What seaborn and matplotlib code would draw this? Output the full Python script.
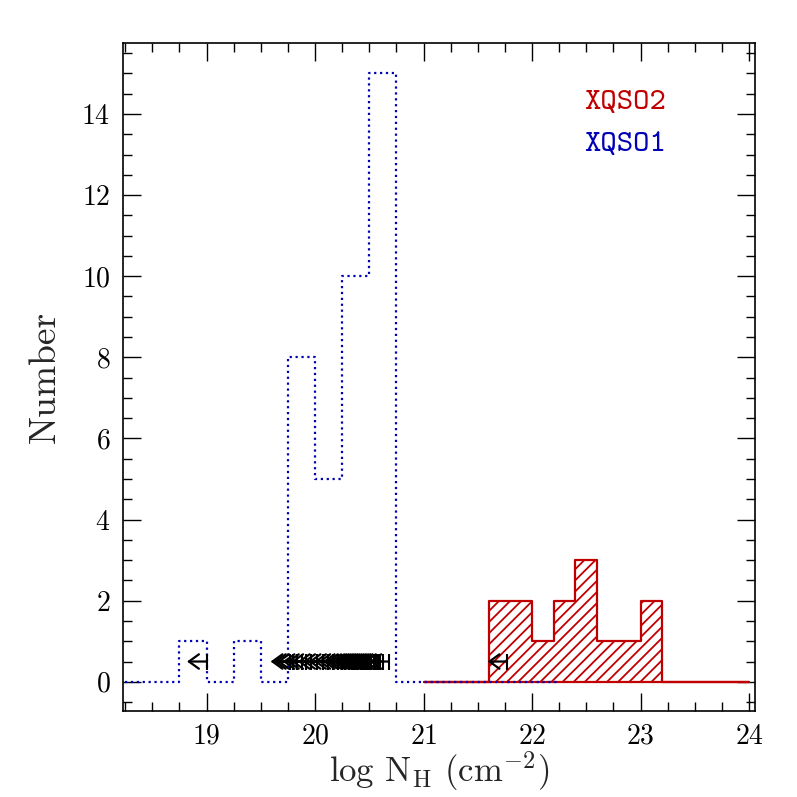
import numpy as np
import pandas as pd
import matplotlib
matplotlib.use("Agg")
import matplotlib.pyplot as plt
import seaborn as sns
from matplotlib.ticker import MultipleLocator

# ---------------- data ----------------
# XQSO1 (blue, dotted) histogram: bin width 0.25 dex
blue_start, blue_width = 18.25, 0.25
blue_counts = [0, 0, 1, 0, 1, 0, 8, 5, 10, 15, 0, 0, 0, 0, 0, 0]
# XQSO2 (red, hatched) histogram: bin width 0.2 dex
red_start, red_width = 21.0, 0.2
red_counts = [0, 0, 0, 2, 2, 1, 2, 3, 1, 1, 2, 0, 0, 0, 0]
# upper limits on log NH (arrows)
ulim_values = [19.00,
               19.77, 19.80, 19.83, 19.88, 19.92, 19.96, 20.02, 20.07, 20.12,
               20.17, 20.21, 20.25, 20.28, 20.31, 20.34, 20.36, 20.38, 20.40,
               20.42, 20.44, 20.46, 20.48, 20.50, 20.52, 20.54, 20.56, 20.58,
               20.60, 20.63, 20.68,
               21.77]
ulim_level = 0.5
legend_labels = ["XQSO2", "XQSO1"]
x_ticks = [19, 20, 21, 22, 23, 24]
y_ticks = [0, 2, 4, 6, 8, 10, 12, 14]

RED = "#c00000"
BLUE = "#0000b4"

blue_edges = [float(e) for e in blue_start + blue_width * np.arange(len(blue_counts) + 1)]
red_edges = [float(e) for e in red_start + red_width * np.arange(len(red_counts) + 1)]
blue_df = pd.DataFrame({"x": np.array(blue_edges[:-1]) + blue_width / 2, "n": blue_counts})
red_df = pd.DataFrame({"x": np.array(red_edges[:-1]) + red_width / 2, "n": red_counts})

# ---------------- style ----------------
sns.set_style("ticks")
plt.rcParams["font.family"] = ["cmr10", "DejaVu Serif"]
plt.rcParams["mathtext.fontset"] = "cm"
plt.rcParams["axes.formatter.use_mathtext"] = True
plt.rcParams["hatch.linewidth"] = 1.3

fig = plt.figure(figsize=(7.97, 7.97), dpi=100)
ax = fig.add_axes([123 / 797, 1 - 711 / 797, (755 - 123) / 797, (711 - 43) / 797])

# red hatched histogram
sns.histplot(data=red_df, x="x", weights="n", bins=red_edges, element="step",
             fill=True, ax=ax, color=RED)
poly = ax.collections[-1]
poly.set_facecolor("none")
poly.set_edgecolor(RED)
poly.set_hatch("///")
poly.set_linewidth(1.6)
poly.set_alpha(1)

# blue dotted histogram
sns.histplot(data=blue_df, x="x", weights="n", bins=blue_edges, element="step",
             fill=False, ax=ax, color=BLUE, linestyle=":", linewidth=1.6)

# upper-limit arrows
arrow_len = 0.18
for v in ulim_values:
    ax.annotate("", xy=(v - arrow_len, ulim_level), xytext=(v, ulim_level),
                arrowprops=dict(arrowstyle="->, head_length=0.36, head_width=0.26",
                                color="black", lw=1.6,
                                shrinkA=0, shrinkB=0, mutation_scale=20))
    ax.plot([v], [ulim_level], marker="|", ms=12, mew=1.5, color="black")

# legend texts
ax.text(22.48, 14.27, legend_labels[0], color=RED, fontsize=22.5,
        family="cmtt10", va="center", ha="left")
ax.text(22.48, 13.24, legend_labels[1], color=BLUE, fontsize=22.5,
        family="cmtt10", va="center", ha="left")

# axes
ax.set_xlim(18.23, 24.055)
ax.set_ylim(-0.72, 15.75)
ax.set_xticks(x_ticks)
ax.set_yticks(y_ticks)
ax.xaxis.set_minor_locator(MultipleLocator(0.25))
ax.yaxis.set_minor_locator(MultipleLocator(0.5))
ax.tick_params(which="both", direction="in", top=True, right=True,
               labelsize=20, colors="black", width=1.0)
ax.tick_params(which="major", length=13, pad=9)
ax.tick_params(which="minor", length=6.5)
for s in ax.spines.values():
    s.set_linewidth(1.2)
    s.set_color("black")
    s.set_visible(True)

ax.set_xlabel(r"log N$_{\rm H}$ (cm$^{-2}$)", fontsize=25, labelpad=0)
ax.set_ylabel("Number", fontsize=27, labelpad=14)

fig.savefig("out.png", dpi=100)
